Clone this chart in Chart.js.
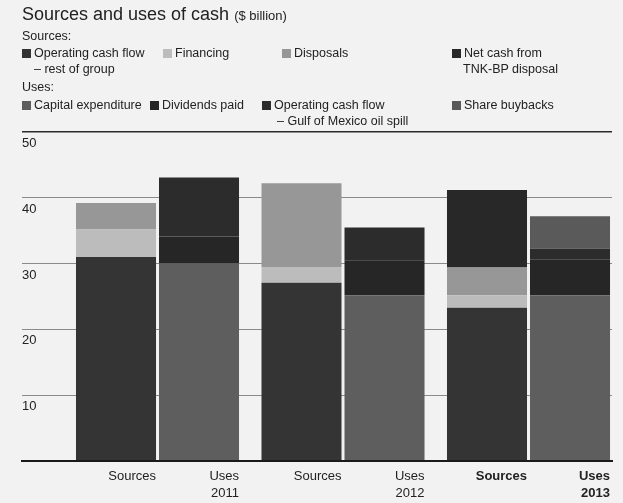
<!DOCTYPE html>
<html>
<head>
<meta charset="utf-8">
<script src="https://cdn.jsdelivr.net/npm/chart.js@4"></script>
<style>
  body { margin: 0; background: #f2f2f2; font-family: "Liberation Sans", Arial, sans-serif; color: #222; }
  #wrap { position: relative; width: 623px; height: 503px; overflow: hidden; }
  #grafico { position: absolute; left: 0; top: 0; }
  .t { position: absolute; white-space: nowrap; font-size: 12.5px; line-height: 16px; }
  .titulo { font-size: 18px; line-height: 20px; }
  .titulo span { font-size: 13px; }
  .sw { display: inline-block; width: 9px; height: 9px; margin-right: 3px; vertical-align: -1px; }
</style>
</head>
<body>
<div id="wrap">
  <canvas id="grafico" width="623" height="503"></canvas>
  <div class="t titulo" style="left:22px;top:4px">Sources and uses of cash <span>($ billion)</span></div>
  <div class="t" style="left:22px;top:28px">Sources:</div>
  <div class="t" style="left:22px;top:45px"><i class="sw" id="lg0"></i>Operating cash flow</div>
  <div class="t" style="left:34px;top:61px">– rest of group</div>
  <div class="t" style="left:163px;top:45px"><i class="sw" id="lg1"></i>Financing</div>
  <div class="t" style="left:282px;top:45px"><i class="sw" id="lg2"></i>Disposals</div>
  <div class="t" style="left:452px;top:45px"><i class="sw" id="lg3"></i>Net cash from</div>
  <div class="t" style="left:463px;top:61px">TNK-BP disposal</div>
  <div class="t" style="left:22px;top:79px">Uses:</div>
  <div class="t" style="left:22px;top:97px"><i class="sw" id="lg4"></i>Capital expenditure</div>
  <div class="t" style="left:150px;top:97px"><i class="sw" id="lg5"></i>Dividends paid</div>
  <div class="t" style="left:262px;top:97px"><i class="sw" id="lg6"></i>Operating cash flow</div>
  <div class="t" style="left:277px;top:113px">– Gulf of Mexico oil spill</div>
  <div class="t" style="left:452px;top:97px"><i class="sw" id="lg7"></i>Share buybacks</div>
</div>
<script>
const years = [2011, 2012, 2013];
const yearLabels = ['2011', '2012', '2013'];
const stackLabels = ['Sources', 'Uses'];
const yTicks = [0, 10, 20, 30, 40, 50];

// Sources ($ billion)
const opCashRest = [31.0, 27.1, 23.3];
const financing = [4.2, 2.4, 1.9];
const disposals = [4.0, 12.7, 4.2];
const tnkBp = [0, 0, 11.8];

// Uses ($ billion)
const capex = [30.0, 25.2, 25.2];
const dividends = [4.1, 5.3, 5.4];
const gomSpill = [9.0, 5.0, 1.7];
const buybacks = [0, 0, 4.9];

const FONT = '"Liberation Sans", Arial, sans-serif';

function serie(label, valores, color, stack) {
  return {
    label,
    data: years.map((yr, i) => ({ x: yr, y: valores[i] })),
    backgroundColor: color,
    borderWidth: 0,
    stack,
  };
}

const datasets = [
  serie('Operating cash flow – rest of group', opCashRest, '#343434', 'sources'),
  serie('Financing', financing, '#bcbcbc', 'sources'),
  serie('Disposals', disposals, '#979797', 'sources'),
  serie('Net cash from TNK-BP disposal', tnkBp, '#282828', 'sources'),
  serie('Capital expenditure', capex, '#5e5e5e', 'uses'),
  serie('Dividends paid', dividends, '#262626', 'uses'),
  serie('Operating cash flow – Gulf of Mexico oil spill', gomSpill, '#2c2c2c', 'uses'),
  serie('Share buybacks', buybacks, '#5a5a5a', 'uses'),
];

datasets.forEach((d, i) => {
  document.getElementById('lg' + i).style.background = d.backgroundColor;
});

// etiquetas bajo cada barra, alineadas al borde derecho
const etiquetas = {
  id: 'etiquetas',
  afterDatasetsDraw(chart) {
    const ctx = chart.ctx;
    const metaS = chart.getDatasetMeta(3);
    const metaU = chart.getDatasetMeta(7);
    const y0 = chart.chartArea.bottom;
    ctx.save();
    ctx.fillStyle = '#222';
    ctx.textAlign = 'right';
    ctx.textBaseline = 'middle';
    years.forEach((yr, i) => {
      const bold = i === years.length - 1;
      ctx.font = (bold ? 'bold ' : '') + '13px ' + FONT;
      const s = metaS.data[i];
      const u = metaU.data[i];
      ctx.fillText(stackLabels[0], s.x + s.width / 2, y0 + 15);
      ctx.fillText(stackLabels[1], u.x + u.width / 2, y0 + 15);
      ctx.fillText(yearLabels[i], u.x + u.width / 2, y0 + 32);
    });
    ctx.restore();
  }
};

new Chart(document.getElementById('grafico'), {
  type: 'bar',
  data: { datasets },
  plugins: [etiquetas],
  options: {
    responsive: false,
    animation: false,
    layout: { padding: { left: 22, right: 11, top: 132, bottom: 42 } },
    plugins: { legend: { display: false }, tooltip: { enabled: false } },
    categoryPercentage: 0.895,
    barPercentage: 0.964,
    scales: {
      x: {
        type: 'linear',
        offset: false,
        min: 2010.2695,
        max: 2013.4501,
        ticks: { display: false, stepSize: 1, includeBounds: false },
        grid: { display: false, drawTicks: false, offset: false },
        border: { display: true, color: '#1a1a1a', width: 2, z: 1 },
      },
      y: {
        stacked: true,
        min: 0,
        max: 50,
        afterBuildTicks: axis => { axis.ticks = yTicks.map(v => ({ value: v })); },
        ticks: {
          mirror: true,
          padding: 0,
          labelOffset: 11.5,
          color: '#222',
          font: { family: FONT, size: 13 },
          callback: v => (v === 0 ? '' : v),
        },
        grid: {
          drawTicks: false,
          color: c => (c.tick.value === 0 ? 'rgba(0,0,0,0)' : c.tick.value === 50 ? '#2a2a2a' : '#8a8a8a'),
          lineWidth: c => (c.tick.value === 50 ? 1.5 : 1),
        },
        border: { display: false },
      }
    }
  }
});
</script>
</body>
</html>
